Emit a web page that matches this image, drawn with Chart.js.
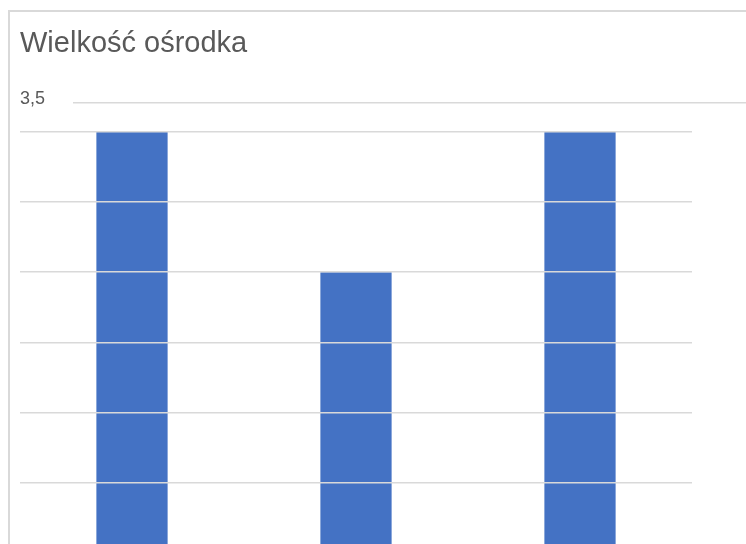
<!DOCTYPE html>
<html>
<head>
<meta charset="utf-8">
<script src="https://cdn.jsdelivr.net/npm/chart.js@4/dist/chart.umd.min.js"></script>
<style>
  html, body { margin: 0; padding: 0; background: #fff; overflow: hidden; }
  #frame {
    position: absolute; left: 8px; top: 10px;
    border-left: 2px solid #d9d9d9; border-top: 2px solid #d9d9d9;
    width: 780px; height: 600px;
  }
  #chart { display: block; }
</style>
</head>
<body>
<div id="frame"><canvas id="chart" width="760" height="562"></canvas></div>
<script>
// data
const categories = ["Mały", "Średni", "Duży"];
const sizeValues = [3, 2, 3];
const yMax = 3;
const yStep = 0.5;
const topLabel = "3,5";

// the stray "3,5" label + line above the plot (cropped Excel rendering)
const topLabelPlugin = {
  id: "topLabel",
  afterDraw(chart) {
    const { ctx, chartArea } = chart;
    const y = chartArea.top - 29;
    ctx.save();
    ctx.strokeStyle = "#d9d9d9";
    ctx.lineWidth = 1.5;
    ctx.beginPath();
    ctx.moveTo(chartArea.left + 53, y);
    ctx.lineTo(chart.width, y);
    ctx.stroke();
    ctx.fillStyle = "#595959";
    ctx.font = "18px 'Liberation Sans', Arial, sans-serif";
    ctx.textBaseline = "alphabetic";
    ctx.fillText(topLabel, chartArea.left, y + 1);
    ctx.restore();
  }
};

new Chart(document.getElementById("chart").getContext("2d"), {
  type: "bar",
  data: {
    labels: categories,
    datasets: [{
      label: "Wielkość ośrodka",
      data: sizeValues,
      backgroundColor: "#4472c4",
      borderWidth: 0,
      categoryPercentage: 1,
      barPercentage: 0.318
    }]
  },
  options: {
    responsive: false,
    animation: false,
    layout: { padding: { left: 10, right: 78, top: 0, bottom: 21 } },
    plugins: {
      legend: { display: false },
      tooltip: { enabled: false },
      title: {
        display: true,
        text: "Wielkość ośrodka",
        align: "start",
        color: "#595959",
        font: { size: 29, family: "'Liberation Sans', Arial, sans-serif", weight: "normal" },
        padding: { top: 15, bottom: 70 }
      }
    },
    scales: {
      x: { display: false },
      y: {
        min: 0,
        max: yMax,
        ticks: { display: false, stepSize: yStep },
        border: { display: false },
        grid: { color: "#d9d9d9", lineWidth: 1.5, drawTicks: false, z: 1 }
      }
    }
  },
  plugins: [topLabelPlugin]
});
</script>
</body>
</html>
